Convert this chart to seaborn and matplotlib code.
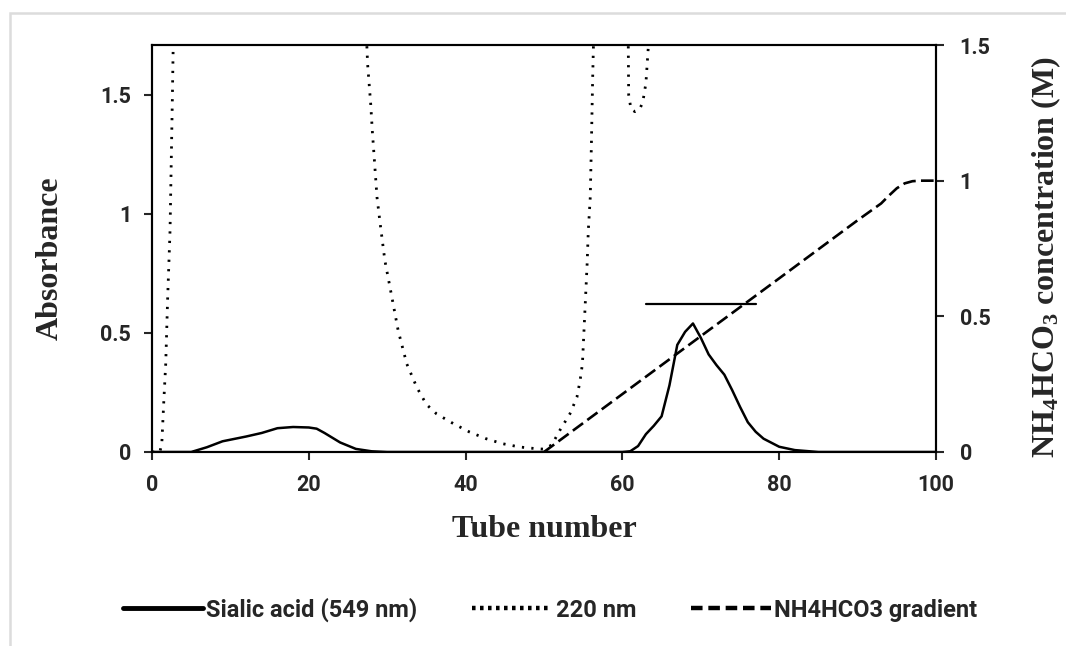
import matplotlib
matplotlib.use("Agg")
import matplotlib.pyplot as plt
import numpy as np
import pandas as pd
import seaborn as sns
from matplotlib.lines import Line2D
from matplotlib.patches import Rectangle
from matplotlib.ticker import FuncFormatter

# ---- data ----
SIALIC_TUBE = [0, 5, 7, 9, 12, 14, 16, 18, 20, 21, 22, 24, 26, 28, 30,
               60, 61, 62, 63, 64, 65, 66, 67, 68, 69, 70, 71, 72, 73, 74,
               75, 76, 77, 78, 80, 82, 85, 100]
SIALIC_ABS = [0, 0, 0.02, 0.045, 0.065, 0.08, 0.1, 0.105, 0.103, 0.098, 0.08, 0.04, 0.013, 0.003, 0,
              0, 0.003, 0.025, 0.075, 0.11, 0.15, 0.28, 0.45, 0.505, 0.54, 0.48, 0.41, 0.365, 0.325, 0.26,
              0.19, 0.125, 0.085, 0.056, 0.022, 0.008, 0, 0]

UV_TUBE = [0, 1.0, 1.25, 1.5, 1.75, 2.0, 2.3, 2.45, 2.6, 2.7, 3.0,
           27.0, 27.4, 27.5, 27.9, 28.1, 28.4, 28.7, 29.1, 29.7, 30.6, 31.4, 32.5, 33.8, 35.0, 36.3,
           38.4, 40.5, 42.6, 44.7, 46.9, 49.0, 50.0, 51.0, 52.0, 53.3, 54.2, 54.6, 54.9, 55.1, 55.3,
           55.5, 55.65, 55.9, 56.05, 56.2, 56.3, 56.6,
           60.6, 60.75, 60.8, 61.1, 61.6, 62.2, 62.6, 63.0, 63.3, 63.5, 100]
UV_ABS = [0, 0.0, 0.035, 0.21, 0.37, 0.65, 0.93, 1.21, 1.49, 1.70, 2.2,
          2.2, 1.71, 1.63, 1.46, 1.35, 1.21, 1.07, 0.96, 0.805, 0.65, 0.51, 0.37, 0.27, 0.2, 0.16,
          0.12, 0.084, 0.056, 0.035, 0.021, 0.014, 0.012, 0.03, 0.09, 0.16, 0.23, 0.30, 0.37, 0.51, 0.65,
          0.79, 0.93, 1.07, 1.3, 1.56, 1.70, 2.2,
          2.2, 1.70, 1.50, 1.44, 1.43, 1.44, 1.47, 1.55, 1.70, 2.2, 2.2]

GRAD_TUBE = [50, 60, 70, 80, 90, 93, 94, 95, 96, 97, 98, 100]
GRAD_CONC = [0, 0.2135, 0.427, 0.64, 0.854, 0.916, 0.945, 0.972, 0.99, 0.998, 1.0, 1.0]

POOL_TUBE = [63, 77]
POOL_ABS = [0.62, 0.62]

X_TICKS = [0, 20, 40, 60, 80, 100]
LEFT_TICKS = [0, 0.5, 1, 1.5]
RIGHT_TICKS = [0, 0.5, 1, 1.5]

sns.set_style("ticks")
SANS = ["Roboto", "DejaVu Sans"]
SERIF = ["Liberation Serif", "DejaVu Serif"]
plt.rcParams["font.family"] = SANS
plt.rcParams["mathtext.fontset"] = "custom"
plt.rcParams["mathtext.rm"] = "Liberation Serif:bold"
plt.rcParams["mathtext.default"] = "rm"

DOT = (0, (0.8, 2.6))
DASH = (0, (4.8, 2.0))

fig = plt.figure(figsize=(10.66, 6.46), dpi=100)
fig.patches.append(Rectangle((10 / 1066, -0.1), 1.2, 1.1 - 13 / 646,
                             transform=fig.transFigure, fill=False,
                             edgecolor="#dcdcdc", lw=1.8, zorder=0))
ax = fig.add_axes([0.14259, 0.30031, 0.73546, 0.63003])
ax2 = ax.twinx()

sialic = pd.DataFrame({"tube": SIALIC_TUBE, "abs": SIALIC_ABS})
uv = pd.DataFrame({"tube": UV_TUBE, "abs": UV_ABS})
grad = pd.DataFrame({"tube": GRAD_TUBE, "conc": GRAD_CONC})

sns.lineplot(data=uv, x="tube", y="abs", ax=ax, color="black", lw=2.0,
             linestyle=DOT, estimator=None, sort=False, legend=False)
sns.lineplot(data=sialic, x="tube", y="abs", ax=ax, color="black", lw=1.8,
             estimator=None, sort=False, legend=False)
ax.plot(POOL_TUBE, POOL_ABS, color="black", lw=1.6)
sns.lineplot(data=grad, x="tube", y="conc", ax=ax2, color="black", lw=1.9,
             linestyle=DASH, estimator=None, sort=False, legend=False)

ax.set_xlim(0, 100)
ax.set_ylim(0, 1.71)
ax2.set_ylim(0, 1.5)
ax.set_xticks(X_TICKS)
ax.set_yticks(LEFT_TICKS)
ax2.set_yticks(RIGHT_TICKS)
fmt = FuncFormatter(lambda v, p: "%g" % v)
ax.xaxis.set_major_formatter(fmt)
ax.yaxis.set_major_formatter(fmt)
ax2.yaxis.set_major_formatter(fmt)

for a in (ax, ax2):
    for s in a.spines.values():
        s.set_linewidth(1.5)
        s.set_color("black")
        s.set_visible(True)
ax.tick_params(axis="x", direction="out", length=6, width=1.5, pad=10,
               labelsize=15.5)
ax.tick_params(axis="y", direction="out", length=6, width=1.5, pad=9,
               labelsize=15.5)
ax2.tick_params(axis="y", direction="out", length=6, width=1.5, pad=11,
                labelsize=15.5)
for lab in ax.get_xticklabels() + ax.get_yticklabels() + ax2.get_yticklabels():
    lab.set_fontweight("bold")

ax.set_xlabel("Tube number", fontsize=23, fontweight="bold", family=SERIF)
ax.xaxis.set_label_coords(0.5, -0.19)
ax.xaxis.label.set_va("center")
ax.set_ylabel("Absorbance", fontsize=23, fontweight="bold", family=SERIF)
ax.yaxis.set_label_coords(-0.13, 0.477)
ax.yaxis.label.set_va("center")
ax2.set_ylabel(r"NH$_4$HCO$_3$ concentration (M)", fontsize=23,
               fontweight="bold", family=SERIF, rotation=90)
ax2.yaxis.set_label_coords(1.14, 0.48)
ax2.yaxis.label.set_va("center")

handles = [
    Line2D([], [], color="black", lw=3.5),
    Line2D([], [], color="black", lw=3.2, linestyle=(0, (0.8, 1.0))),
    Line2D([], [], color="black", lw=3.2, linestyle=(0, (2.6, 1.3))),
]
labels = ["Sialic acid (549 nm)", "220 nm", "NH4HCO3 gradient"]
fig.legend(handles, labels, loc="center", bbox_to_anchor=(0.516, 0.056),
           ncol=3, frameon=False, handlelength=3.4, handletextpad=0.15,
           columnspacing=2.3, prop={"family": SANS,
                                    "weight": "bold", "size": 17})

fig.savefig("out.png", dpi=100)
